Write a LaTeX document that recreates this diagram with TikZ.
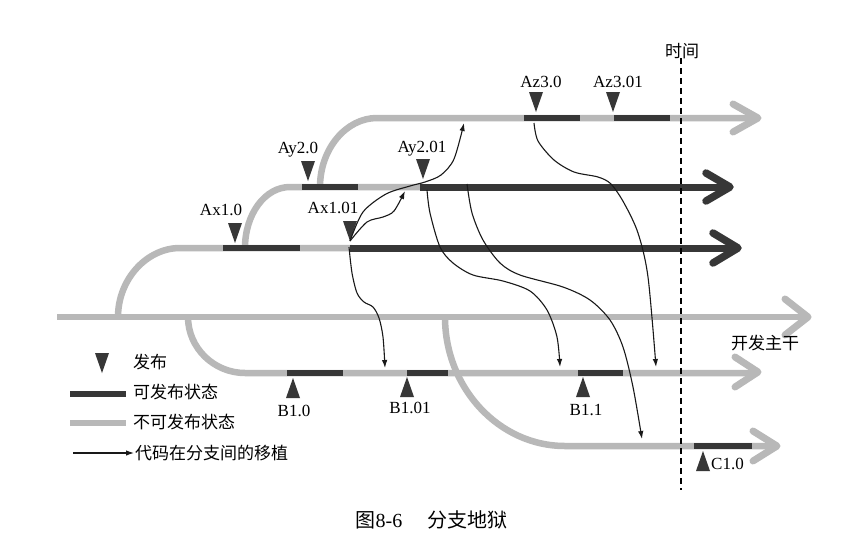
\documentclass[tikz,border=0pt]{standalone}
\usepackage{fontspec}
\setmainfont{Liberation Serif}
\newfontfamily\cjk{Noto Sans CJK SC}
\usetikzlibrary{arrows.meta}
\definecolor{lgray}{RGB}{184,184,184}
\definecolor{dgray}{RGB}{55,55,55}
\begin{document}
\begin{tikzpicture}[x=1pt,y=-1pt,
  gline/.style={draw=lgray,line width=6.5pt},
  dseg/.style={draw=dgray,line width=6.5pt},
  dline/.style={draw=dgray,line width=7pt},
  gchev/.style={draw=lgray,line width=7pt,line cap=round,line join=round},
  dchev/.style={draw=dgray,line width=7.5pt,line cap=round,line join=round},
  merge/.style={draw=black!90,line width=1.1pt,-{Latex[length=8pt,width=5.5pt]}},
  lbl/.style={font=\fontsize{17}{20}\selectfont,inner sep=0pt},
  clbl/.style={font=\cjk\fontsize{17}{20}\selectfont,inner sep=0pt},
  captext/.style={font=\fontsize{20}{24}\selectfont,inner sep=0pt},
  reldn/.pic={\fill[dgray] (-7,-10) -- (7,-10) -- (0,10) -- cycle;},
  relup/.pic={\fill[dgray] (-7,10) -- (7,10) -- (0,-10) -- cycle;}
]
\useasboundingbox (0,0) rectangle (862,555);
\fill[white] (0,0) rectangle (862,555);

% ---- gray branches ----
% main trunk
\draw[gline] (57,317) -- (805,317);
\draw[gchev] (785,299) -- (808,317) -- (785,335);
% Ax branch
\draw[gline] (118,317) .. controls (118,279) and (147,248) .. (180,248) -- (352,248);
% Ay branch
\draw[gline] (245,248) .. controls (245,214) and (265,187) .. (290,187) -- (422,187);
% Az branch
\draw[gline] (320,187) .. controls (320,149) and (346,118) .. (377,118) -- (756,118);
\draw[gchev] (733,104) -- (758,118) -- (733,132);
% B branch
\draw[gline] (188,317) .. controls (188,348) and (214,373) .. (245,373) -- (756,373);
\draw[gchev] (735,357) -- (758,372) -- (735,387);
% C branch
\draw[gline] (445,317) .. controls (445,388) and (499,446) .. (565,446) -- (775,446);
\draw[gchev] (753,431) -- (777,446) -- (753,461);

% ---- releasable segments ----
\draw[dseg] (223,248) -- (300,248);
\draw[dline] (350,248) -- (736,248);
\draw[dchev] (713,233) -- (738,248) -- (713,263);
\draw[dseg] (302,187) -- (358,187);
\draw[dline] (420,187) -- (728,187);
\draw[dchev] (706,173) -- (730,187) -- (706,201);
\draw[dseg] (524,118) -- (580,118);
\draw[dseg] (614,118) -- (670,118);
\draw[dseg] (287,373) -- (343,373);
\draw[dseg] (407,373) -- (448,373);
\draw[dseg] (578,373) -- (623,373);
\draw[dseg] (694,446) -- (752,446);

% ---- time line ----
\draw[black,line width=1.1pt,dash pattern=on 6pt off 4pt] (681,58) -- (681,490);
\node[clbl] (time) at (682,51) {时间};
\node[clbl] (trunk) at (765,343) {开发主干};

% ---- release markers ----
\pic at (235,233) {reldn};
\node[lbl] (lAx10) at (221,210) {Ax1.0};
\pic at (350,231) {reldn};
\node[lbl] (lAx101) at (333,208) {Ax1.01};
\pic at (308,171) {reldn};
\node[lbl] (lAy20) at (298,150) {Ay2.0};
\pic at (423,169) {reldn};
\node[lbl] (lAy201) at (422,149) {Ay2.01};
\pic at (536,102) {reldn};
\node[lbl] (lAz30) at (541,82) {Az3.0};
\pic at (613,102) {reldn};
\node[lbl] (lAz301) at (618,82) {Az3.01};

\pic at (293,388) {relup};
\node[lbl] (lB10) at (294,411) {B1.0};
\pic at (407,387) {relup};
\node[lbl] (lB101) at (410,408) {B1.01};
\pic at (583,387) {relup};
\node[lbl] (lB11) at (586,410) {B1.1};
\pic at (703,461) {relup};
\node[lbl,anchor=west] (lC10) at (711,464) {C1.0};

% ---- merges ----
\coordinate (ax101) at (350,241);
\coordinate (ax101b) at (349,247);
\coordinate (ay201) at (427,190);
\coordinate (aymid) at (467,184);
\coordinate (az30) at (534,123);
\coordinate (e1) at (405,191);
\coordinate (e2) at (464,123);
\coordinate (e3) at (385,368);
\coordinate (e4) at (560,367);
\coordinate (e5) at (642,439);
\coordinate (e6) at (656,367);
\draw[merge] plot[smooth] coordinates {(ax101) (367,222) (383,217) (394,211) (e1)};
\draw[merge] plot[smooth] coordinates {(ax101) (363,212) (386,194) (410,186) (425,182) (441,175) (454,159) (e2)};
\draw[merge] plot[smooth] coordinates {(ax101b) (352,273) (357,293) (364,302) (373,307) (379,318) (383,337) (e3)};
\draw[merge] plot[smooth] coordinates {(ay201) (430,213) (440,247) (453,263) (473,275) (503,281) (530,291) (547,310) (557,337) (e4)};
\draw[merge] plot[smooth] coordinates {(aymid) (472,213) (483,240) (500,263) (520,275) (563,287) (590,300) (610,320) (623,347) (633,387) (e5)};
\draw[merge] plot[smooth] coordinates {(az30) (538,141) (554,160) (574,172) (598,177) (611,184) (624,203) (638,233) (648,277) (e6)};

% ---- legend ----
\pic at (102,363) {reldn};
\node[clbl,anchor=west] (lg1) at (133,362) {发布};
\draw[dseg] (70,394) -- (126,394);
\node[clbl,anchor=west] (lg2) at (133,392) {可发布状态};
\draw[gline] (70,423) -- (126,423);
\node[clbl,anchor=west] (lg3) at (133,422) {不可发布状态};
\coordinate (lgs) at (73,453);
\coordinate (lge) at (134,453);
\draw[merge] (lgs) -- (lge);
\node[clbl,anchor=west] (lg4) at (135,453) {代码在分支间的移植};

% ---- caption ----
\node[captext] (cap1) at (379,520) {{\cjk 图}8-6};
\node[captext,font=\cjk\fontsize{20}{24}\selectfont] (cap2) at (467,520) {分支地狱};
\end{tikzpicture}
\end{document}
